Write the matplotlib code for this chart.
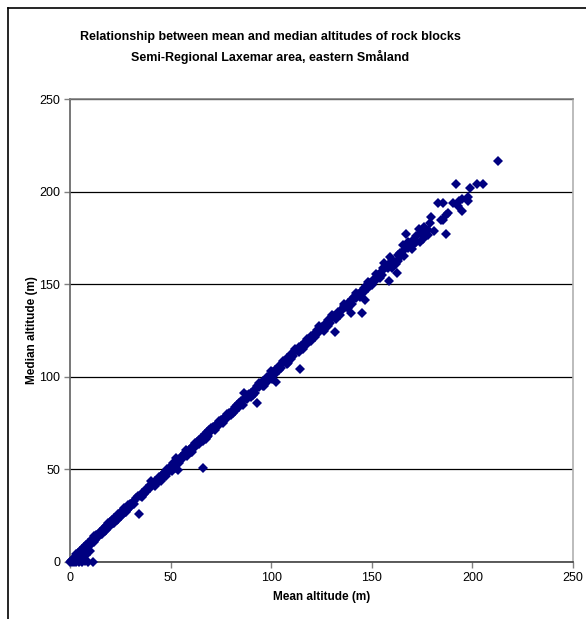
import matplotlib
matplotlib.use("Agg")
import matplotlib.pyplot as plt
from matplotlib.lines import Line2D

plt.rcParams['font.family'] = ['Liberation Sans', 'DejaVu Sans']

# mean and median altitudes (m)
mean_low = [0, 0.5, 1, 1.5, 2, 2.5, 3, 3.5, 4, 4.5, 5, 5.5, 6, 6.5, 7, 7.5, 8, 8.5, 9, 9.5, 10, 10.5,
            1, 2, 3, 4.5, 6, 7.5, 9, 11.5, 4, 6, 8, 10, 7, 5]
median_low = [0, 0.3, 1.2, 0.5, 2.4, 1.8, 3.5, 2.6, 4.8, 3.9, 6.2, 5.1, 7.0, 5.8, 8.3, 7.1, 9.0, 7.6, 10.4, 9.2, 11.0, 9.8,
              0, 0, 0, 0, 0, 0.3, 0, 0, 1.5, 2.5, 4, 6, 3.2, 1]

mean_mid = [11, 11.5, 12, 12.5, 13, 13.5, 14, 14.5, 15, 15.5, 16, 16.5, 17, 17.5, 18, 18.5, 19, 19.5, 20, 20.5,
            21, 21.5, 22, 22.5, 23, 23.5, 24, 24.5, 25, 25.5, 26, 26.5, 27, 27.5, 28, 28.5, 29, 29.5, 30, 31,
            32, 33, 34.3, 35, 36, 37, 38, 39, 40, 40.5, 41, 42, 43, 44, 45, 45.5, 46, 47, 47.5, 48,
            49, 50, 50.5, 51, 52, 52.5, 53, 53.5, 54, 55, 56, 57, 57.5, 58, 59, 60, 60.5, 61, 62, 63,
            64, 65, 66.1, 66, 67, 67.5, 68, 68.5, 69, 70, 71, 72, 73, 74, 75, 76, 77, 78, 79, 80,
            81, 82, 83, 84, 85, 86, 86.5, 87, 88, 89, 90, 91, 92, 92.9, 93, 94, 95, 96, 96.5, 97,
            98, 99, 100, 100.5, 101, 102, 102.4, 103, 104, 105, 106, 107, 108, 108.5, 109, 110, 111, 112, 113, 114,
            114.3, 115, 116, 117, 118, 119, 120, 121, 122, 123, 124, 125, 126, 127, 128, 129, 130, 131, 131.7, 132,
            133, 134, 135, 136, 137, 138, 139, 139.7, 140, 141, 142, 143, 144, 145, 145.1, 146, 146.6, 147, 148, 149]
median_mid = [12.5, 10.7, 13.8, 12, 14.6, 13.2, 15.1, 14.6, 16.3, 15.2, 15.0, 17.8, 18.5, 16.9, 19.6, 18.4, 20.8, 19.2, 21.5, 20.3,
              22.6, 21.0, 23.8, 22.2, 24.4, 22.8, 25.9, 24.1, 26.6, 25.0, 27.5, 25.8, 28.9, 27.2, 29.4, 28.0, 30.6, 29.1, 31.2, 31.8,
              33.0, 34.5, 25.9, 35.6, 37.1, 36.8, 39.4, 39.9, 41.7, 44, 42.0, 43.6, 42.5, 45.7, 44.0, 47.2, 47.6, 48.4, 46.5, 50.1,
              50.4, 51.8, 49.3, 53.5, 52.2, 56, 54.6, 49.5, 55.3, 56.8, 55.9, 58.9, 60.5, 58.1, 60.7, 61.4, 59.5, 62.9, 62.2, 64.8,
              63.5, 66.9, 50.8, 67.3, 69.2, 66.5, 70.1, 68.3, 71.5, 70.6, 72.8, 73.2, 74.7, 74.0, 76.6, 77.3, 78.5, 78.0, 80.6, 81.2,
              80.3, 83.5, 84.6, 83.8, 86.9, 87.4, 91.3, 88.6, 87.9, 90.8, 91.5, 90.2, 93.6, 85.9, 94.8, 94.3, 96.7, 97.5, 95.0, 98.4,
              99.8, 100.6, 101.1, 99.0, 102.7, 103.9, 97.2, 104.2, 105.8, 104.5, 107.6, 108.3, 109.9, 107.5, 110.4, 112.1, 111.3, 113.7, 114.6, 113.5,
              104.2, 116.8, 117.4, 118.9, 117.6, 120.5, 121.8, 120.9, 123.6, 125.1, 124.3, 126.8, 127.2, 128.9, 130.4, 129.1, 131.8, 132.6, 124.2, 133.1,
              135.0, 135.7, 136.3, 138.2, 137.6, 139.8, 140.5, 134.4, 141.9, 143.2, 142.4, 144.8, 145.5, 146.1, 134.4, 147.9, 141.5, 149.2, 148.1, 150.6]

mean_high = [150, 151, 152, 153, 154, 155, 155.6, 156, 157, 158, 158.5, 159, 160, 161.5, 162.5, 163, 163, 164, 165.5, 166,
             167, 167, 168, 169, 170.5, 171, 172, 173.5, 174, 175.4, 176, 177.9, 178.9, 179.4, 180.9, 182.9, 184.4, 185.4, 185.4, 186.9,
             186.9, 187.9, 190.4, 191.8, 192.8, 193.3, 194.8, 194.8, 197.8, 197.8, 198.8, 202.3, 205.3, 212.7]
median_high = [151.3, 152.8, 152.0, 154.9, 156.0, 155.2, 158.7, 158.1, 159.3, 158.9, 151.7, 164.7, 158.7, 162, 156, 166, 162.5, 164.7, 171.2, 168.5,
               177, 170, 169.5, 172, 171.2, 174.5, 173, 179.8, 177.5, 174.4, 178, 179.3, 183, 186.4, 178.8, 194, 184.7, 184.7, 194, 187.4,
               177, 188.6, 194, 204, 192, 195, 196, 189.7, 197, 195, 202, 204, 204, 216.5]

# second pass through the band: points on either edge of the main line
mean_edge = [3, 5, 7, 9, 12, 14, 16, 18, 20, 22, 24, 26, 28, 30, 32, 34, 36, 38, 40, 42,
             44, 46, 48, 50, 52, 54, 56, 58, 60, 62, 64, 66, 68, 70, 72, 74, 76, 78, 80, 82,
             84, 86, 88, 90, 92, 94, 96, 98, 100, 102, 104, 106, 108, 110, 112, 114, 116, 118, 120, 122,
             124, 126, 128, 130, 132, 134, 136, 138, 140, 142, 144, 146, 148, 150, 152, 154, 156, 158, 160, 162,
             164, 166, 168, 170, 172, 174, 176, 178]
median_edge = [4.5, 4, 6.5, 8, 11, 13.9, 16.8, 17.2, 19.5, 21.3, 23.2, 26.4, 27.1, 29.6, 31.5, 35.8, 35.2, 37.6, 39.8, 41.2,
               43.5, 45.1, 47.9, 49.6, 51.0, 53.4, 57.8, 57.0, 59.2, 64.0, 65.9, 65.1, 67.4, 72.6, 71.1, 76.2, 75.3, 80.1, 79.2, 81.6,
               86.1, 85.0, 90.3, 89.1, 91.4, 96.6, 95.2, 97.1, 102.9, 101.3, 103.6, 108.8, 106.9, 109.4, 115.2, 116.3, 115.1, 120.4, 119.3, 121.5,
               127.2, 125.0, 127.6, 133.4, 131.2, 133.6, 139.3, 137.1, 139.4, 145.3, 143.2, 145.6, 151.2, 149.5, 155.4, 153.3, 161.2, 160.6, 163.2, 161.0,
               167.1, 165.3, 173.0, 168.9, 176.1, 172.6, 180.8, 176.5]

ticks = [0, 50, 100, 150, 200, 250]

fig = plt.figure(figsize=(5.86, 6.19), dpi=100)
ax = fig.add_axes([70 / 586, 57 / 619, 503 / 586, 463 / 619])

for mx, my in [(mean_low, median_low), (mean_mid, median_mid),
               (mean_high, median_high), (mean_edge, median_edge)]:
    ax.plot(mx, my, linestyle='none', marker='D', markersize=4.6,
            color='#000080', markeredgewidth=0, clip_on=False, zorder=3)

ax.set_xlim(0, 250)
ax.set_ylim(0, 250)
ax.set_xticks(ticks)
ax.set_yticks(ticks)
ax.tick_params(direction='out', length=4, width=1, color='#808080',
               labelsize=9, pad=3)
ax.yaxis.grid(True, color='black', linewidth=0.9)
ax.set_axisbelow(True)

ax.spines['left'].set_color('#606060')
ax.spines['bottom'].set_color('#404040')
ax.spines['top'].set_color('#808080')
ax.spines['right'].set_color('#b0b0b0')
for s in ax.spines.values():
    s.set_linewidth(1.2)

ax.set_xlabel('Mean altitude (m)', fontsize=8.5, fontweight='bold', labelpad=5)
ax.set_ylabel('Median altitude (m)', fontsize=8.5, fontweight='bold', labelpad=1)

fig.text(270 / 586, 1 - 37 / 619, 'Relationship between mean and median altitudes of rock blocks',
         ha='center', va='center', fontsize=9, fontweight='bold')
fig.text(270 / 586, 1 - 57 / 619, 'Semi-Regional Laxemar area, eastern Småland',
         ha='center', va='center', fontsize=9, fontweight='bold')

# chart border (only left and top edges show in the crop)
fig.add_artist(Line2D([8 / 586, 8 / 586], [0, 1 - 8 / 619], color='black', linewidth=1.2))
fig.add_artist(Line2D([8 / 586, 1], [1 - 8 / 619, 1 - 8 / 619], color='black', linewidth=1.2))

fig.savefig('out.png', dpi=100)
